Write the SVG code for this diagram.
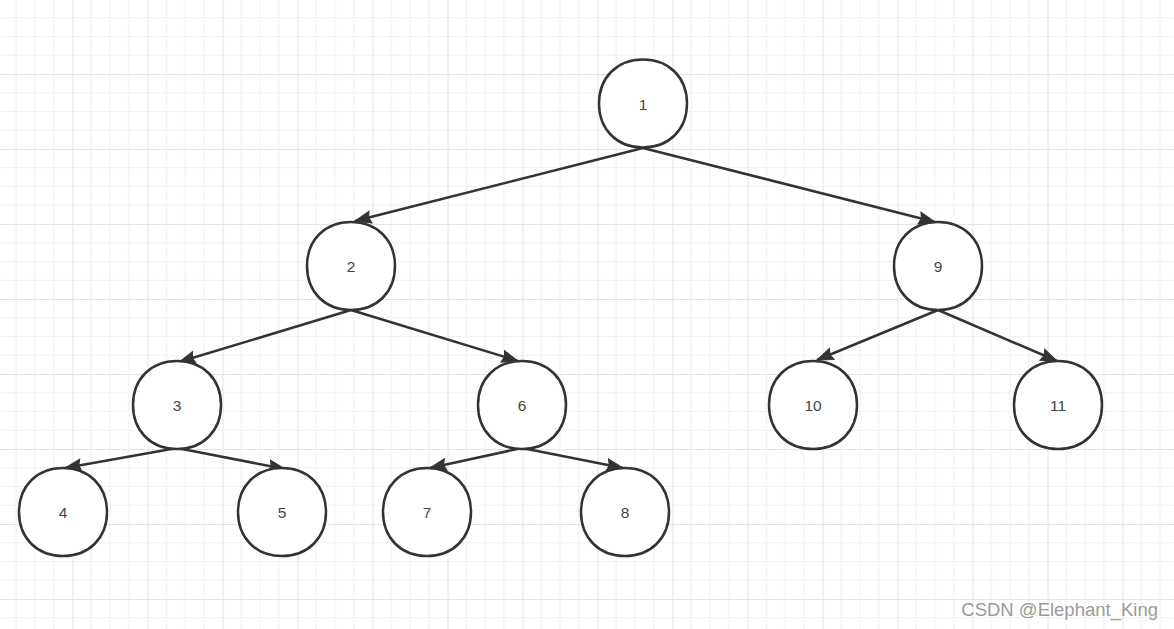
<svg xmlns="http://www.w3.org/2000/svg" width="1174" height="629" viewBox="0 0 1174 629">
<style>
.node use{fill:#ffffff;stroke:#333333;stroke-width:2.5}
.node text{font-family:"Liberation Sans",Arial,sans-serif;font-size:15.5px;fill:#444444;text-anchor:middle;dominant-baseline:central}
.edge{stroke:#333333;stroke-width:2.5;fill:none;marker-end:url(#arrow)}
.wm{font-family:"Liberation Sans",Arial,sans-serif;font-size:18.5px;fill:#9a9a9a;stroke:#ffffff;stroke-width:0.6;paint-order:stroke;text-anchor:end}
</style>
<defs>
<pattern id="grid" patternUnits="userSpaceOnUse" x="-2.5" y="-1" width="75" height="75">
<path d="M18.75 0V75M37.5 0V75M56.25 0V75M0 18.75H75M0 37.5H75M0 56.25H75" stroke="#f1f1f1" stroke-width="1.2" fill="none"/>
<path d="M0.5 0V75M0 0.5H75" stroke="#e4e4e4" stroke-width="1.2" fill="none"/>
</pattern>
<path id="shape" d="M0 -44C26 -44 44 -26 44 0C44 26 26 44 0 44C-26 44 -44 26 -44 0C-44 -26 -26 -44 0 -44Z"/>
<marker id="arrow" markerUnits="userSpaceOnUse" markerWidth="18" markerHeight="16" viewBox="0 0 18 16" refX="17" refY="8" orient="auto">
<path d="M1 2L17 8L1 14L3 8Z" fill="#333333" stroke="#333333" stroke-width="1"/>
</marker>
</defs>
<rect width="1174" height="629" fill="#ffffff"/>
<rect width="1174" height="629" fill="url(#grid)"/>
<g id="connectors">
<path class="edge" d="M643 148L355 221"/>
<path class="edge" d="M643 148L935 222"/>
<path class="edge" d="M351 310L179 362"/>
<path class="edge" d="M351 310L518 361"/>
<path class="edge" d="M938 310L817 360"/>
<path class="edge" d="M938 310L1057 361"/>
<path class="edge" d="M177 448L65 468"/>
<path class="edge" d="M177 448L285 469"/>
<path class="edge" d="M522 448L430 468"/>
<path class="edge" d="M522 448L623 468"/>
</g>
<g id="n1" class="node"><use href="#shape" x="643" y="103.5"/><text x="643" y="104">1</text></g>
<g id="n2" class="node"><use href="#shape" x="351" y="266"/><text x="351" y="266">2</text></g>
<g id="n9" class="node"><use href="#shape" x="938" y="266"/><text x="938" y="266">9</text></g>
<g id="n3" class="node"><use href="#shape" x="177" y="405"/><text x="177" y="405">3</text></g>
<g id="n6" class="node"><use href="#shape" x="522" y="405"/><text x="522" y="405">6</text></g>
<g id="n10" class="node"><use href="#shape" x="813" y="405"/><text x="813" y="405">10</text></g>
<g id="n11" class="node"><use href="#shape" x="1058" y="405"/><text x="1058" y="405">11</text></g>
<g id="n4" class="node"><use href="#shape" x="63" y="512"/><text x="63" y="512">4</text></g>
<g id="n5" class="node"><use href="#shape" x="282" y="512"/><text x="282" y="512">5</text></g>
<g id="n7" class="node"><use href="#shape" x="427" y="512"/><text x="427" y="512">7</text></g>
<g id="n8" class="node"><use href="#shape" x="625" y="512"/><text x="625" y="512">8</text></g>
<text class="wm" x="1158" y="616">CSDN @Elephant_King</text>
</svg>
